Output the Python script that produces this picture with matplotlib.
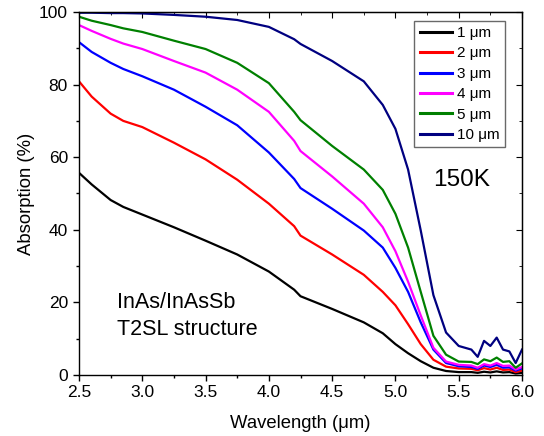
import numpy as np
import matplotlib
matplotlib.use('Agg')
import matplotlib.pyplot as plt
from matplotlib.ticker import MultipleLocator

plt.rcParams['font.family'] = ['Liberation Sans', 'DejaVu Sans']

wavelength = [2.5, 2.6, 2.75, 2.85, 3.0, 3.25, 3.5, 3.75, 4.0, 4.2, 4.25, 4.5, 4.75, 4.9,
              5.0, 5.1, 5.2, 5.3, 5.4, 5.5, 5.6, 5.65, 5.7, 5.75, 5.8, 5.85, 5.9, 5.95, 6.0]

abs_1um = [55.7, 52.5, 48.2, 46.3, 44.2, 40.7, 37.0, 33.2, 28.5, 23.5, 21.7, 18.2, 14.5, 11.5,
           8.5, 6.0, 3.8, 2.0, 1.1, 0.8, 0.8, 0.6, 0.9, 0.7, 1.0, 0.7, 0.8, 0.4, 0.6]
abs_2um = [80.9, 76.7, 72.0, 70.0, 68.3, 64.0, 59.4, 53.8, 47.2, 41.0, 38.4, 33.2, 27.6, 22.9,
           19.2, 14.0, 8.5, 4.2, 2.3, 1.8, 1.7, 1.3, 1.9, 1.5, 2.0, 1.4, 1.5, 0.8, 1.2]
abs_3um = [91.7, 89.0, 86.0, 84.3, 82.3, 78.6, 73.9, 68.8, 61.3, 54.0, 51.5, 45.8, 39.8, 35.1,
           29.5, 22.9, 14.5, 7.0, 3.3, 2.4, 2.2, 1.7, 2.6, 2.2, 2.8, 2.0, 2.1, 1.2, 1.8]
abs_4um = [96.4, 94.8, 92.6, 91.3, 89.8, 86.5, 83.3, 78.6, 72.5, 64.5, 61.7, 54.7, 47.2, 40.7,
           34.1, 25.7, 16.4, 7.5, 3.7, 2.8, 2.6, 2.0, 3.0, 2.6, 3.3, 2.5, 2.6, 1.5, 2.2]
abs_5um = [98.7, 97.6, 96.4, 95.5, 94.5, 92.1, 89.8, 86.0, 80.4, 72.5, 70.2, 63.1, 56.6, 51.0,
           44.4, 35.1, 22.9, 10.8, 5.6, 3.7, 3.6, 3.0, 4.3, 3.8, 4.8, 3.6, 3.8, 2.0, 3.2]
abs_10um = [99.8, 99.8, 99.7, 99.7, 99.6, 99.2, 98.7, 97.8, 95.9, 92.5, 91.2, 86.5, 80.9, 74.4,
            67.8, 56.6, 39.8, 22.0, 11.7, 8.0, 7.0, 5.0, 9.4, 8.0, 10.3, 7.0, 6.5, 3.3, 7.0]

labels = ['1 μm', '2 μm', '3 μm', '4 μm', '5 μm', '10 μm']
colors = ['#000000', '#ff0000', '#0000ff', '#ff00ff', '#008000', '#000080']
series = [abs_1um, abs_2um, abs_3um, abs_4um, abs_5um, abs_10um]

fig = plt.figure(figsize=(5.44, 4.36), dpi=100)
ax = fig.add_axes([79/544, 1 - 375/436, 443/544, 363/436])

for y, c, lab in zip(series, colors, labels):
    ax.plot(wavelength, y, color=c, lw=1.6, label=lab)

ax.set_xlim(2.5, 6.0)
ax.set_ylim(0, 100)
ax.xaxis.set_major_locator(MultipleLocator(0.5))
ax.xaxis.set_minor_locator(MultipleLocator(0.25))
ax.yaxis.set_major_locator(MultipleLocator(20))
ax.yaxis.set_minor_locator(MultipleLocator(10))
ax.tick_params(which='both', direction='out', labelsize=12.5, width=1)
ax.tick_params(which='major', length=4.5)
ax.tick_params(which='minor', length=2.5)
ax.tick_params(axis='x', pad=2.5)
ax.tick_params(axis='y', pad=3.5)
for s in ax.spines.values():
    s.set_linewidth(1)

# mirrored ticks on top and right, pointing inwards
ax2 = ax.secondary_xaxis('top')
ax2.xaxis.set_major_locator(MultipleLocator(0.5))
ax2.xaxis.set_minor_locator(MultipleLocator(0.25))
ax2.tick_params(which='both', direction='in', labeltop=False)
ax2.tick_params(which='major', length=4.5)
ax2.tick_params(which='minor', length=2.5)
ay2 = ax.secondary_yaxis('right')
ay2.yaxis.set_major_locator(MultipleLocator(20))
ay2.yaxis.set_minor_locator(MultipleLocator(10))
ay2.tick_params(which='both', direction='in', labelright=False)
ay2.tick_params(which='major', length=4.5)
ay2.tick_params(which='minor', length=2.5)

ax.set_xlabel('Wavelength (μm)', fontsize=13.3, labelpad=11)
ax.set_ylabel('Absorption (%)', fontsize=13.3, labelpad=3)

ax.text(5.30, 53.7, '150K', fontsize=17.6, ha='left', va='center')
ax.text(2.80, 20.1, 'InAs/InAsSb', fontsize=15.5, ha='left', va='center')
ax.text(2.80, 12.6, 'T2SL structure', fontsize=15.5, ha='left', va='center')

leg = ax.legend(loc='upper right', bbox_to_anchor=(0.961, 0.976),
                fontsize=11, frameon=True, fancybox=False,
                handlelength=2.1, handletextpad=0.33, labelspacing=0.42,
                borderpad=0.35, borderaxespad=0)
leg.get_frame().set_edgecolor('#444444')
leg.get_frame().set_linewidth(1)
for line in leg.get_lines():
    line.set_linewidth(2.2)

fig.savefig('out.png', dpi=100)
